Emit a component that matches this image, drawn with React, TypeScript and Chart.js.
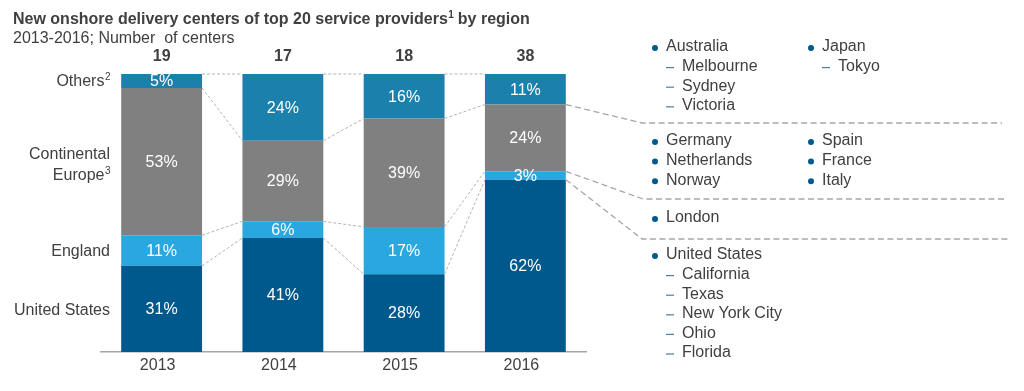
import React, { useEffect, useRef } from "react";
import { Chart, registerables } from "chart.js";
Chart.register(...registerables);

const years = ["2013", "2014", "2015", "2016"];
const totals = [19, 17, 18, 38];
const unitedStates = [31, 41, 28, 62];
const england = [11, 6, 17, 3];
const continentalEurope = [53, 29, 39, 24];
const others = [5, 24, 16, 11];
const seriesNames = ["United States", "England", "Continental Europe", "Others"];
const seriesColors = ["#00598c", "#29a8e0", "#808080", "#1b80ac"];

const othersCountries = ["Australia", "Japan"];
const australiaCities = ["Melbourne", "Sydney", "Victoria"];
const japanCities = ["Tokyo"];
const europeCol1 = ["Germany", "Netherlands", "Norway"];
const europeCol2 = ["Spain", "France", "Italy"];
const englandCities = ["London"];
const usHeading = "United States";
const usCities = ["California", "Texas", "New York City", "Ohio", "Florida"];

const FONT = "'Liberation Sans', Arial, sans-serif";
const TEXT = "#404040";
const BULLET = "#00598c";
const DASH = "#4f7ea3";
const FS = 16;

function drawSup(ctx: CanvasRenderingContext2D, base: string, sup: string, x: number, y: number, align: "left" | "right", size: number, bold = false) {
  const w = bold ? "bold " : "";
  const ss = Math.round(size * 0.62);
  ctx.font = `${w}${size}px ${FONT}`;
  const bw = ctx.measureText(base).width;
  ctx.font = `${w}${ss}px ${FONT}`;
  const sw = ctx.measureText(sup).width;
  const start = align === "right" ? x - bw - sw : x;
  ctx.textAlign = "left";
  ctx.font = `${w}${size}px ${FONT}`;
  ctx.fillText(base, start, y);
  ctx.font = `${w}${ss}px ${FONT}`;
  ctx.fillText(sup, start + bw + 0.5, y - size * 0.3);
  return start + bw + sw;
}

const overlay = {
  id: "overlay",
  afterDraw(chart: any) {
    const ctx: CanvasRenderingContext2D = chart.ctx;
    const metas = [0, 1, 2, 3].map((i) => chart.getDatasetMeta(i));
    const el = (d: number, i: number) => metas[d].data[i].getProps(["x", "y", "width", "base"], true);
    ctx.save();

    // connectors between bars
    ctx.strokeStyle = "#b3b3b3";
    ctx.lineWidth = 1;
    ctx.setLineDash([3, 2]);
    for (let d = 0; d < 4; d++) {
      for (let i = 0; i < years.length - 1; i++) {
        const a = el(d, i);
        const b = el(d, i + 1);
        ctx.beginPath();
        ctx.moveTo(a.x + a.width / 2, a.y);
        ctx.lineTo(b.x - b.width / 2, b.y);
        ctx.stroke();
      }
    }

    // connectors to the right panel
    const last = years.length - 1;
    const anchors = [
      { d: 2, x: 642, y: 123, end: 1002 },
      { d: 1, x: 643, y: 199, end: 1004 },
      { d: 0, x: 642, y: 239, end: 1010 },
    ];
    ctx.strokeStyle = "#a6a6a6";
    ctx.lineWidth = 1.3;
    ctx.setLineDash([6, 3.5]);
    anchors.forEach((an) => {
      const e = el(an.d, last);
      ctx.beginPath();
      ctx.moveTo(e.x + e.width / 2, e.y);
      ctx.lineTo(an.x, an.y);
      ctx.lineTo(an.end, an.y);
      ctx.stroke();
    });
    ctx.setLineDash([]);

    // values inside bars
    const series = [unitedStates, england, continentalEurope, others];
    ctx.fillStyle = "#ffffff";
    ctx.font = `${FS}px ${FONT}`;
    ctx.textAlign = "center";
    ctx.textBaseline = "middle";
    series.forEach((arr, d) => {
      arr.forEach((v, i) => {
        const e = el(d, i);
        ctx.fillText(`${v}%`, e.x, (e.y + e.base) / 2 + 1);
      });
    });

    // totals
    ctx.fillStyle = TEXT;
    ctx.font = `bold ${FS}px ${FONT}`;
    totals.forEach((t, i) => {
      const e = el(3, i);
      ctx.fillText(String(t), e.x, 57);
    });

    // title
    ctx.textBaseline = "middle";
    ctx.fillStyle = TEXT;
    const endX = drawSup(ctx, "New onshore delivery centers of top 20 service providers", "1", 13, 20, "left", FS, true);
    ctx.font = `bold ${FS}px ${FONT}`;
    ctx.fillText(" by region", endX, 20);
    ctx.font = `${FS}px ${FONT}`;
    ctx.fillText("2013-2016; Number  of centers", 13, 39);

    // left category labels (aligned to first bar segments)
    const c = (d: number) => {
      const e = el(d, 0);
      return (e.y + e.base) / 2;
    };
    ctx.fillStyle = TEXT;
    drawSup(ctx, "Others", "2", 110, c(3) + 1, "right", FS);
    ctx.font = `${FS}px ${FONT}`;
    ctx.textAlign = "right";
    ctx.fillText("Continental", 110, c(2) - 7);
    drawSup(ctx, "Europe", "3", 110, c(2) + 14, "right", FS);
    ctx.font = `${FS}px ${FONT}`;
    ctx.textAlign = "right";
    ctx.fillText(seriesNames[1], 110, c(1) + 1);
    ctx.fillText(seriesNames[0], 110, c(0) + 2);

    // right panel
    const bullet = (x: number, y: number) => {
      ctx.fillStyle = BULLET;
      ctx.beginPath();
      ctx.arc(x, y + 1, 3, 0, Math.PI * 2);
      ctx.fill();
    };
    const dash = (x: number, y: number) => {
      ctx.strokeStyle = DASH;
      ctx.lineWidth = 1.2;
      ctx.beginPath();
      ctx.moveTo(x, y + 1);
      ctx.lineTo(x + 8, y + 1);
      ctx.stroke();
    };
    const item = (txt: string, x: number, y: number) => {
      bullet(x, y);
      ctx.fillStyle = TEXT;
      ctx.font = `${FS}px ${FONT}`;
      ctx.textAlign = "left";
      ctx.fillText(txt, x + 11, y);
    };
    const sub = (txt: string, x: number, y: number) => {
      dash(x + 11, y);
      ctx.fillStyle = TEXT;
      ctx.font = `${FS}px ${FONT}`;
      ctx.textAlign = "left";
      ctx.fillText(txt, x + 27, y);
    };
    const lh = 19.6;
    const col1 = 655;
    const col2 = 811;
    item(othersCountries[0], col1, 47);
    australiaCities.forEach((t, k) => sub(t, col1, 47 + lh * (k + 1)));
    item(othersCountries[1], col2, 47);
    japanCities.forEach((t, k) => sub(t, col2, 47 + lh * (k + 1)));
    europeCol1.forEach((t, k) => item(t, col1, 141 + lh * k));
    europeCol2.forEach((t, k) => item(t, col2, 141 + lh * k));
    englandCities.forEach((t, k) => item(t, col1, 218 + lh * k));
    item(usHeading, col1, 255);
    usCities.forEach((t, k) => sub(t, col1, 255 + lh * (k + 1)));

    ctx.restore();
  },
};

export default function App() {
  const ref = useRef<HTMLCanvasElement | null>(null);
  useEffect(() => {
    if (!ref.current) return;
    const chart = new Chart(ref.current, {
      type: "bar",
      data: {
        labels: years,
        datasets: [unitedStates, england, continentalEurope, others].map((d, i) => ({
          label: seriesNames[i],
          data: d,
          backgroundColor: seriesColors[i],
          borderWidth: 0,
          categoryPercentage: 1,
          barPercentage: 0.667,
        })),
      },
      options: {
        responsive: false,
        animation: false,
        layout: { padding: { left: 101, right: 438, top: 74, bottom: 0 } },
        plugins: { legend: { display: false }, tooltip: { enabled: false }, title: { display: false } },
        scales: {
          x: {
            stacked: true,
            grid: { display: false, drawTicks: false },
            border: { display: true, color: "#a6a6a6", width: 1.5 },
            ticks: { color: TEXT, font: { family: FONT, size: FS }, padding: 4, labelOffset: -4 },
            afterFit: (s: any) => {
              s.height = 39;
            },
          },
          y: { stacked: true, display: false, min: 0, max: 100 },
        },
      } as any,
      plugins: [overlay],
    });
    return () => chart.destroy();
  }, []);
  return (
    <div style={{ position: "fixed", left: 0, top: 0, width: 1024, height: 391, background: "#fff" }}>
      <canvas ref={ref} width={1024} height={391} style={{ display: "block" }} />
    </div>
  );
}
